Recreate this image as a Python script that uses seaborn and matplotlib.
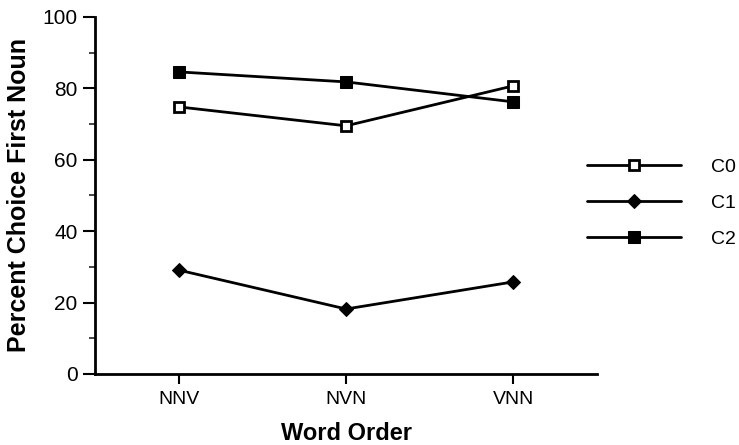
import numpy as np
import pandas as pd
import matplotlib.pyplot as plt
import seaborn as sns
from matplotlib.ticker import MultipleLocator

word_order = ['NNV', 'NVN', 'VNN']
c0 = [74.8, 69.5, 80.7]
c1 = [29.1, 18.2, 25.8]
c2 = [84.6, 81.8, 76.2]

df = pd.DataFrame({
    'Word Order': word_order * 3,
    'Percent': c0 + c1 + c2,
    'Condition': ['C0'] * 3 + ['C1'] * 3 + ['C2'] * 3,
})
df['x'] = df['Word Order'].map({w: i for i, w in enumerate(word_order)})

sns.set_style('ticks')
plt.rcParams['font.family'] = ['Liberation Sans', 'DejaVu Sans']
plt.rcParams['text.color'] = 'black'
plt.rcParams['axes.labelcolor'] = 'black'

fig = plt.figure(figsize=(7.39, 4.45), dpi=100)
ax = fig.add_axes([0.1286, 0.1596, 0.6794, 0.8024])

sns.lineplot(data=df, x='x', y='Percent', hue='Condition', style='Condition',
             palette=['black'] * 3, markers={'C0': 's', 'C1': 'D', 'C2': 's'},
             dashes=False, linewidth=2, ax=ax, legend=False)

# marker styling per series
for line, cond in zip(ax.get_lines(), ['C0', 'C1', 'C2']):
    if cond == 'C0':
        line.set_markerfacecolor('white')
        line.set_markeredgecolor('black')
        line.set_markersize(7)
        line.set_markeredgewidth(2)
    elif cond == 'C1':
        line.set_markerfacecolor('black')
        line.set_markeredgecolor('black')
        line.set_markersize(7)
    else:
        line.set_markerfacecolor('black')
        line.set_markeredgecolor('black')
        line.set_markersize(8)

ax.set_xlim(-0.5, 2.5)
ax.set_ylim(0, 100)
ax.set_xticks(range(3))
ax.set_xticklabels(word_order, fontsize=14)
ax.yaxis.set_major_locator(MultipleLocator(20))
ax.yaxis.set_minor_locator(MultipleLocator(10))
ax.tick_params(axis='y', labelsize=15, direction='out', length=9, width=1.5, colors='black')
ax.tick_params(axis='y', which='minor', length=4, width=1.2)
ax.tick_params(axis='x', direction='out', length=7, width=1.5, colors='black', pad=5)
for s in ['top', 'right']:
    ax.spines[s].set_visible(False)
for s in ['left', 'bottom']:
    ax.spines[s].set_linewidth(2)
    ax.spines[s].set_color('black')

ax.set_xlabel('Word Order', fontsize=17, fontweight='bold', labelpad=10)
ax.set_ylabel('Percent Choice First Noun', fontsize=18, fontweight='bold', labelpad=8)

handles = ax.get_lines()[:3]
leg = fig.legend(handles, ['C0', 'C1', 'C2'], loc='center left',
                 bbox_to_anchor=(0.771, 0.544), frameon=False, fontsize=14,
                 handlelength=4.8, labelspacing=0.95, handletextpad=1.55)

fig.savefig('out.png', dpi=100)
